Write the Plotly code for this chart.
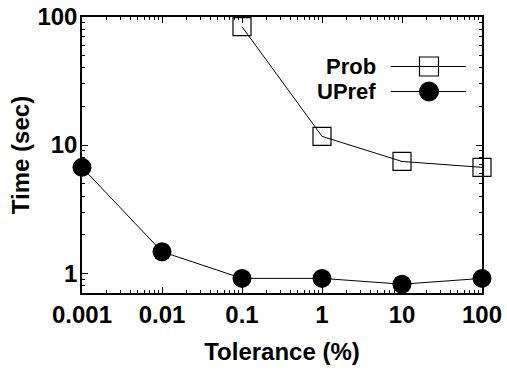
import plotly.graph_objects as go

tolerance = [0.001, 0.01, 0.1, 1, 10, 100]
prob_x = [0.1, 1, 10, 100]
prob_time = [84, 11.7, 7.45, 6.7]
upref_time = [6.7, 1.47, 0.91, 0.91, 0.82, 0.91]
x_ticks = [0.001, 0.01, 0.1, 1, 10, 100]
x_ticklabels = ["0.001", "0.01", "0.1", "1", "10", "100"]
y_ticks = [1, 10, 100]
y_ticklabels = ["1", "10", "100"]

FONT = dict(family="Liberation Sans, Arial, sans-serif", size=24, color="black", weight="bold")
LEG_FONT = dict(FONT, size=22)

fig = go.Figure()
fig.add_trace(go.Scatter(
    x=prob_x, y=prob_time, mode="lines+markers", name="Prob",
    line=dict(color="black", width=1),
    marker=dict(symbol="square-open", size=18, color="black", line=dict(width=1.2, color="black")),
    cliponaxis=False, showlegend=False))
fig.add_trace(go.Scatter(
    x=tolerance, y=upref_time, mode="lines+markers", name="UPref",
    line=dict(color="black", width=1),
    marker=dict(symbol="circle", size=19, color="black"),
    cliponaxis=False, showlegend=False))

# legend (text on left, sample on right like gnuplot)
legend_items = [("Prob", "square", 0.8207), ("UPref", "circle", 0.730)]
for label, sym, yc in legend_items:
    fig.add_annotation(x=0.738, y=yc, xref="paper", yref="paper", text=label,
                       showarrow=False, xanchor="right", yanchor="middle", font=LEG_FONT,
                       borderpad=0)
    fig.add_shape(type="line", xref="paper", yref="paper", x0=0.772, x1=0.96, y0=yc, y1=yc,
                  line=dict(color="black", width=1))
    dx, dy = 9.5 / 400, 9.5 / 276
    xc = 0.8675
    if sym == "square":
        fig.add_shape(type="rect", xref="paper", yref="paper", x0=xc - dx, x1=xc + dx,
                      y0=yc - dy, y1=yc + dy, line=dict(color="black", width=1.2))
    else:
        fig.add_shape(type="circle", xref="paper", yref="paper", x0=xc - dx, x1=xc + dx,
                      y0=yc - dy, y1=yc + dy, line=dict(color="black", width=1),
                      fillcolor="black")

axis_common = dict(
    showline=True, linecolor="black", linewidth=1.5, mirror="allticks",
    ticks="inside", ticklen=6, tickcolor="black", tickwidth=1,
    showgrid=False, zeroline=False, tickfont=FONT, automargin=False,
    minor=dict(ticks="inside", ticklen=3, tickcolor="black", dtick="D1", showgrid=False),
)

fig.update_xaxes(type="log", range=[-3, 2], tickvals=x_ticks, ticktext=x_ticklabels,
                 title=dict(text="Tolerance (%)", font=FONT, standoff=17),
                 ticklabelstandoff=-1, **axis_common)
fig.update_yaxes(type="log", range=[-0.155, 2], tickvals=y_ticks, ticktext=y_ticklabels,
                 title=dict(text="Time (sec)", font=FONT, standoff=1),
                 ticklabelstandoff=-2, **axis_common)

fig.update_layout(width=507, height=373, margin=dict(l=82, r=25, t=17, b=80),
                  paper_bgcolor="white", plot_bgcolor="white", showlegend=False)

fig.write_html("out.html")
